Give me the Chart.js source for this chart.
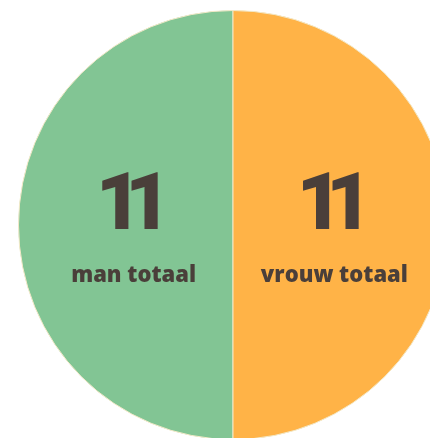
<!DOCTYPE html>
<html>
<head>
<meta charset="utf-8">
<script src="https://cdn.jsdelivr.net/npm/chart.js@4"></script>
<style>
  html, body { margin: 0; padding: 0; background: #ffffff; overflow: hidden; width: 430px; height: 438px; }
  #wrap { position: absolute; left: 18px; top: 10px; width: 430px; height: 430px; }
</style>
</head>
<body>
<div id="wrap"><canvas id="c"></canvas></div>
<script>
const categories = ['man totaal', 'vrouw totaal'];
const values = [11, 11];
const colors = ['#82C594', '#FFB347'];
const textColor = '#4A3F3A';

const labelPlugin = {
  id: 'sliceLabels',
  afterDatasetsDraw(chart) {
    const ctx = chart.ctx;
    const meta = chart.getDatasetMeta(0);
    meta.data.forEach((arc, i) => {
      const p = arc.getProps(['x', 'y', 'startAngle', 'endAngle', 'outerRadius'], true);
      const mid = (p.startAngle + p.endAngle) / 2;
      const r = p.outerRadius * 0.468;
      const cx = p.x + Math.cos(mid) * r;
      const cy = p.y + Math.sin(mid) * r;
      ctx.save();
      ctx.fillStyle = textColor;
      ctx.textAlign = 'center';
      ctx.textBaseline = 'alphabetic';
      const sp = -17;
      ctx.font = '900 80px Roboto, sans-serif';
      ctx.letterSpacing = sp + 'px';
      ctx.fillText(String(values[i]), cx + sp / 2 + 1, cy + 4);
      ctx.letterSpacing = '0px';
      ctx.font = '800 22px "Open Sans", sans-serif';
      ctx.fillText(categories[i], cx + 1, cy + 57);
      ctx.restore();
    });
  }
};

new Chart(document.getElementById('c'), {
  type: 'pie',
  data: {
    labels: categories,
    datasets: [{
      data: values,
      backgroundColor: colors,
      borderColor: '#F3E9C8',
      borderWidth: 1
    }]
  },
  options: {
    responsive: true,
    maintainAspectRatio: false,
    animation: false,
    rotation: 180,
    layout: { padding: 0 },
    plugins: { legend: { display: false }, tooltip: { enabled: false } }
  },
  plugins: [labelPlugin]
});
</script>
</body>
</html>
